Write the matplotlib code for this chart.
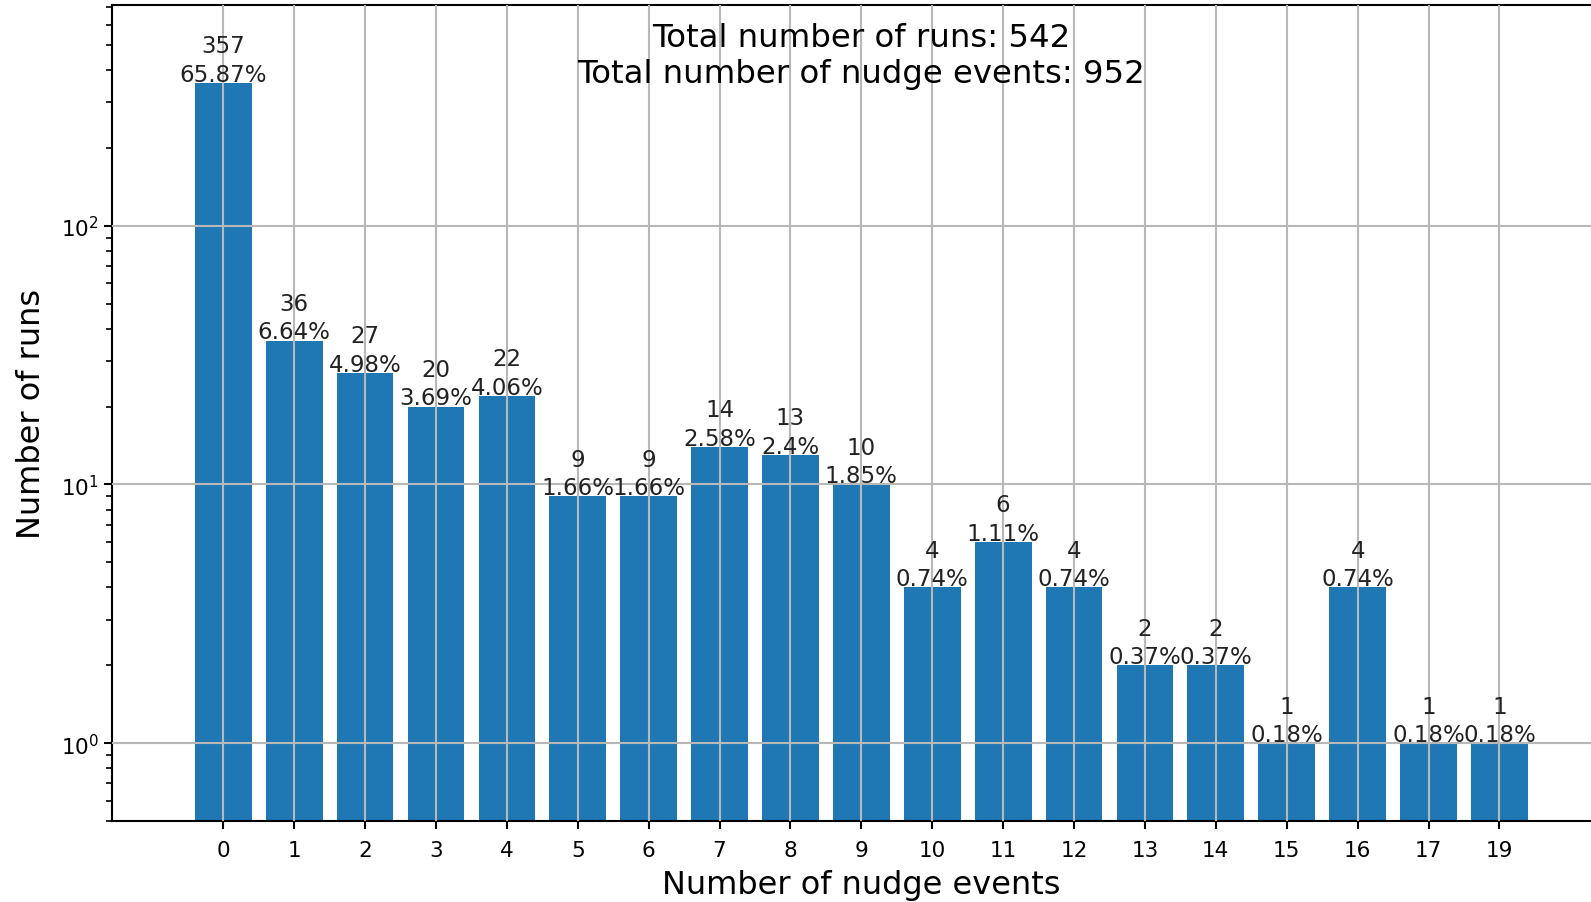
import matplotlib
matplotlib.use("Agg")
import matplotlib.pyplot as plt
import numpy as np

# nudge event counts per run
nudge_labels = ["0", "1", "2", "3", "4", "5", "6", "7", "8", "9",
                "10", "11", "12", "13", "14", "15", "16", "17", "19"]
run_counts = [357, 36, 27, 20, 22, 9, 9, 14, 13, 10,
              4, 6, 4, 2, 2, 1, 4, 1, 1]

total_runs = sum(run_counts)
total_events = sum(int(k) * c for k, c in zip(nudge_labels, run_counts))

fig = plt.figure(figsize=(15.91, 9.03), dpi=100)
ax = fig.add_axes([0.0704, 0.0897, 0.942, 0.9037])

x = np.arange(len(nudge_labels))
bars = ax.bar(x, run_counts, width=0.8, color='#1f77b4', zorder=1)
ax.set_yscale('log')
ax.set_ylim(0.5, max(run_counts) * 2)
ax.set_xlim(-1.57, len(nudge_labels) - 1 + 1.57)
ax.set_xticks(x)
ax.set_xticklabels(nudge_labels)
ax.grid(True, color='#b8b8b8', linewidth=1.5, zorder=2)
ax.set_axisbelow(False)

for b, c in zip(bars, run_counts):
    pct = round(c / total_runs * 100, 2)
    ax.text(b.get_x() + b.get_width() / 2, c * 0.975, "%d\n%s%%" % (c, pct),
            ha='center', va='bottom', fontsize=16.5, color='#222222',
            linespacing=1.3)

ax.text(0.5, 0.979, "Total number of runs: %d\nTotal number of nudge events: %d"
        % (total_runs, total_events), transform=ax.transAxes,
        ha='center', va='top', fontsize=23.3, linespacing=1.22)

ax.set_xlabel("Number of nudge events", fontsize=23, labelpad=6)
ax.set_ylabel("Number of runs", fontsize=23, labelpad=10)
ax.tick_params(axis='both', which='major', labelsize=15.5, length=6, width=1.5)
ax.tick_params(axis='x', which='major', pad=8)
ax.tick_params(axis='y', which='minor', length=4, width=1.2)
for s in ax.spines.values():
    s.set_linewidth(1.5)

fig.savefig("out.png", dpi=100)
